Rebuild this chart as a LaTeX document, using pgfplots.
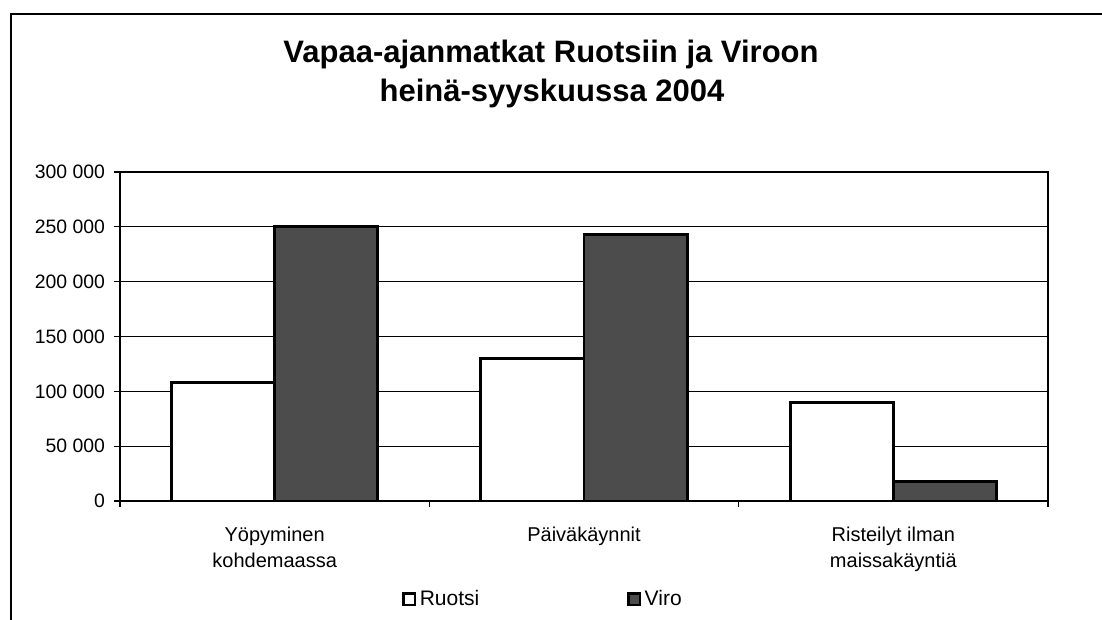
\documentclass[border=0pt]{standalone}
\usepackage{pgfplots}
\pgfplotsset{compat=1.18}
\usepackage{fontspec}
\setmainfont{Liberation Sans}
\definecolor{virofill}{gray}{0.30}
\begin{document}
\begin{tikzpicture}[x=0.5pt,y=0.5pt]
\path[use as bounding box] (0,0) rectangle (1102,620);
\draw[line width=0.8pt] (11,0) -- (11,606) -- (1102,606);
\node[font=\bfseries\fontsize{15.5}{18}\selectfont, anchor=base, inner sep=0pt] at (551,557) {Vapaa-ajanmatkat Ruotsiin ja Viroon};
\node[font=\bfseries\fontsize{15.5}{18}\selectfont, anchor=base, inner sep=0pt] at (552,518.5) {heinä-syyskuussa 2004};
\begin{axis}[
  at={(60pt,59.5pt)}, anchor=south west,
  scale only axis, width=464pt, height=164.5pt,
  xmin=-0.5, xmax=2.5, ymin=0, ymax=300000,
  ytick={0,50000,100000,150000,200000,250000,300000},
  scaled y ticks=false,
  /pgf/number format/.cd, fixed, 1000 sep={\ }, assume math mode=true, /pgfplots/.cd,
  yticklabel style={font=\fontsize{9.7}{11}\selectfont, xshift=-1pt},
  xtick={-0.5,0.5,1.5,2.5}, xticklabels={},
  extra x ticks={0,1,2},
  extra x tick labels={Yöpyminen\\kohdemaassa, Päiväkäynnit, Risteilyt ilman\\maissakäyntiä},
  extra x tick style={major tick length=0pt, xticklabel style={font=\fontsize{10}{13}\selectfont, align=center, anchor=north, yshift=-9.5pt}},
  tick align=outside, major tick length=3pt,
  xtick pos=bottom, ytick pos=left,
  tick style={black, line width=0.6pt},
  axis line style={line width=1.4pt},
  ymajorgrids, major grid style={black, line width=0.5pt},
  legend style={at={(0.3039,-0.298)}, anchor=west, draw=none, fill=none,
    font=\fontsize{10.5}{11}\selectfont, inner sep=0pt,
    /tikz/every even column/.append style={column sep=72pt}},
  legend columns=2,
  legend image code/.code={\draw[#1, line width=1.1pt] (0pt,-2.8pt) rectangle (5.6pt,2.8pt);},
]
\addplot[ybar, fill=white, draw=black, line width=1.4pt, bar width=0.3333, bar shift=-0.16667]
  coordinates {(0,108000) (1,130000) (2,90000)};
\addlegendentry{Ruotsi}
\addplot[ybar, fill=virofill, draw=black, line width=1.4pt, bar width=0.3333, bar shift=0.16667]
  coordinates {(0,250000) (1,243000) (2,18000)};
\addlegendentry{Viro}
\end{axis}
\end{tikzpicture}
\end{document}
